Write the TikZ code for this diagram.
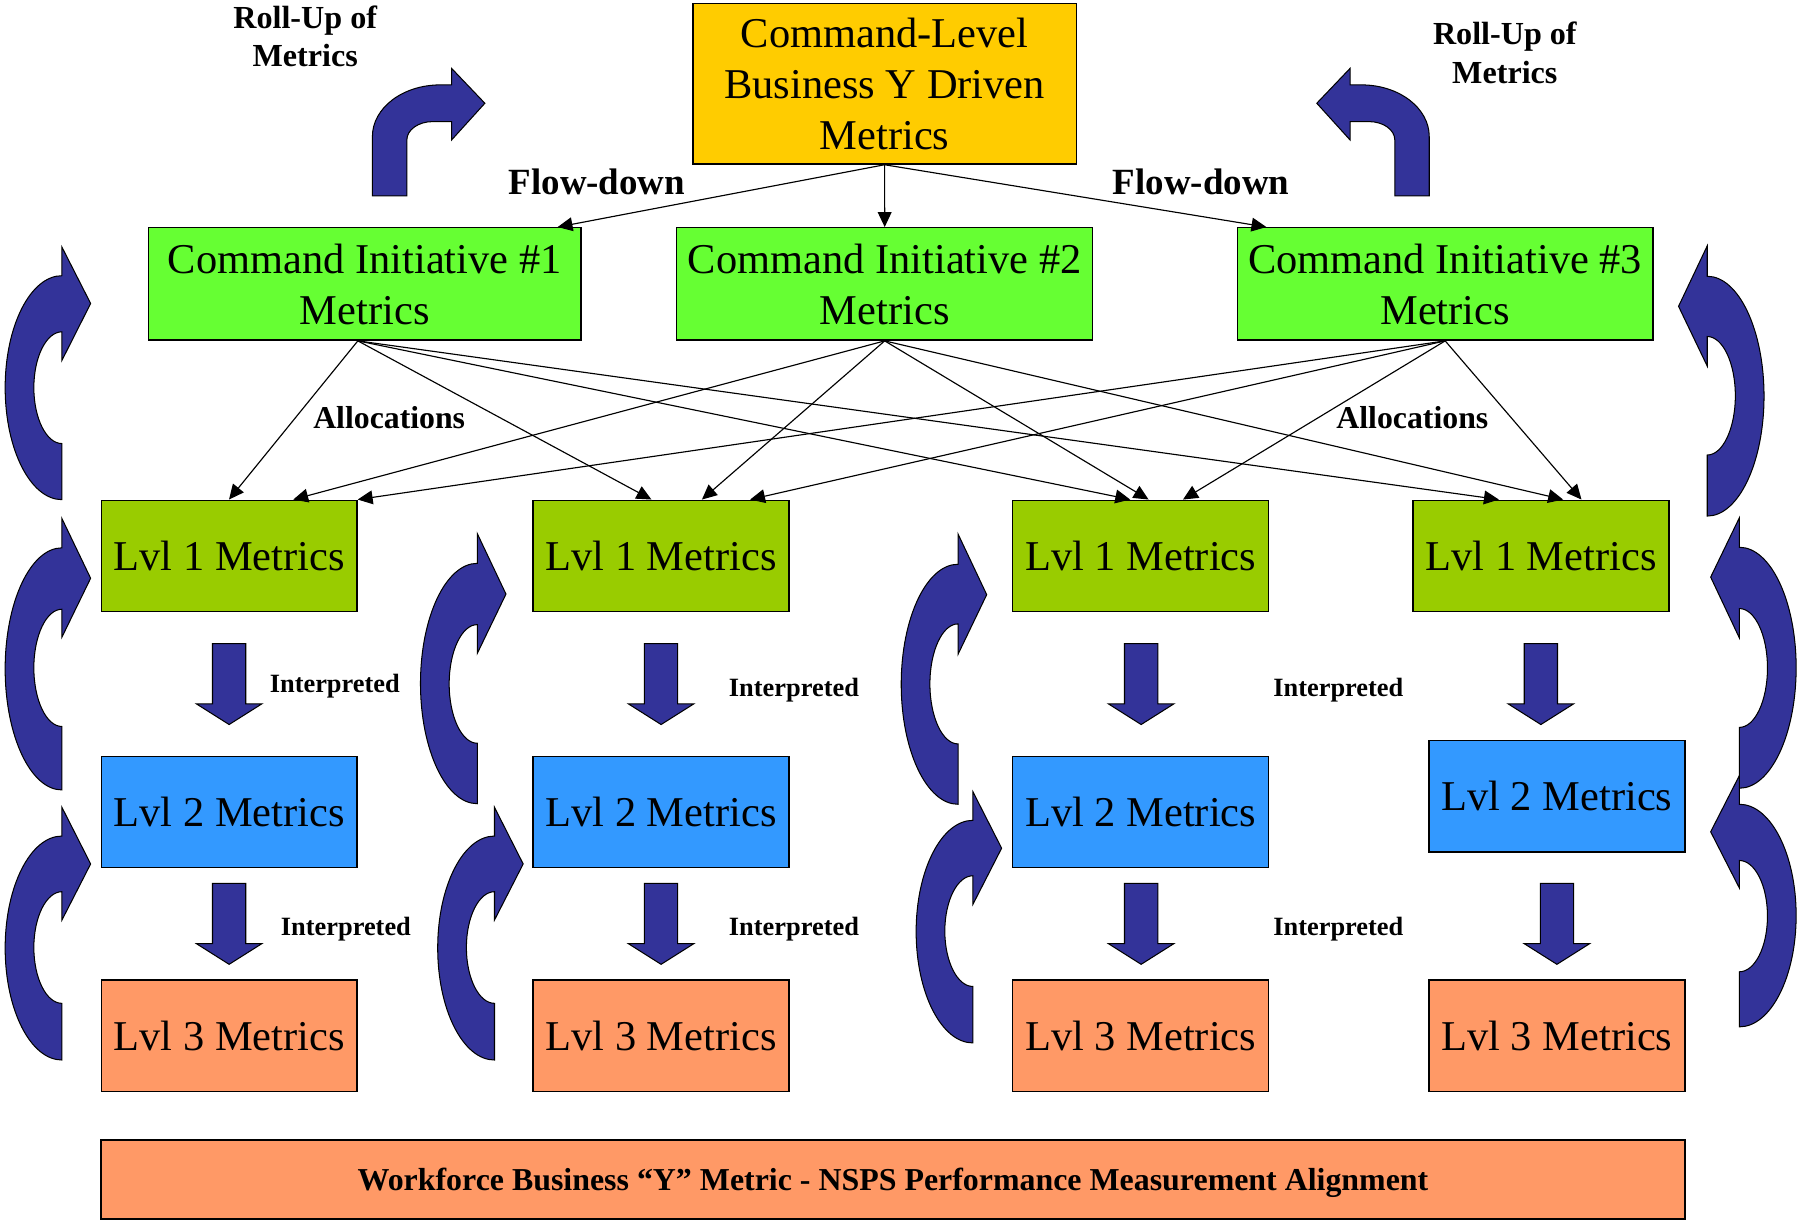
\documentclass[tikz,border=0pt]{standalone}
\usepackage{fontspec}
\setmainfont{Liberation Serif}
\usetikzlibrary{arrows.meta,calc}

\definecolor{cmdgold}{HTML}{FFCC00}
\definecolor{initgreen}{HTML}{66FF33}
\definecolor{lvlonefill}{HTML}{99CC00}
\definecolor{lvltwofill}{HTML}{3399FF}
\definecolor{lvlthreefill}{HTML}{FF9966}
\definecolor{navyarrow}{HTML}{333399}

% curved feedback arrow: base x, bulge direction (+1 left, -1 right),
% outer top/bottom, inner top/bottom, head top/bottom, tip y
\newcommand\feedbackarrow[9]{%
  \pgfmathsetmacro\fbOcy{(#3+#4)/2}%
  \pgfmathsetmacro\fbOry{(#4-#3)/2}%
  \pgfmathsetmacro\fbIcy{(#5+#6)/2}%
  \pgfmathsetmacro\fbIry{(#6-#5)/2}%
  \pgfmathsetmacro\fbOx{#1-(#2)*49.5}%
  \pgfmathsetmacro\fbIx{#1-(#2)*24.5}%
  \pgfmathsetmacro\fbOk{#1-(#2)*27.34}%
  \pgfmathsetmacro\fbIk{#1-(#2)*13.53}%
  \pgfmathsetmacro\fbTx{#1+(#2)*25}%
  \pgfmathsetmacro\fbOa{\fbOcy-0.5523*\fbOry}%
  \pgfmathsetmacro\fbOb{\fbOcy+0.5523*\fbOry}%
  \pgfmathsetmacro\fbIa{\fbIcy-0.5523*\fbIry}%
  \pgfmathsetmacro\fbIb{\fbIcy+0.5523*\fbIry}%
  \draw[blockarrow] (#1,#3) .. controls (\fbOk,#3) and (\fbOx,\fbOa) .. (\fbOx,\fbOcy)
    .. controls (\fbOx,\fbOb) and (\fbOk,#4) .. (#1,#4) -- (#1,#6)
    .. controls (\fbIk,#6) and (\fbIx,\fbIb) .. (\fbIx,\fbIcy)
    .. controls (\fbIx,\fbIa) and (\fbIk,#5) .. (#1,#5)
    -- (#1,#8) -- (\fbTx,#9) -- (#1,#7) -- cycle;
}

% straight block arrow pointing down: centre x, top y
\newcommand\downblock[2]{%
  \draw[blockarrow] ({#1-14.5},#2) -- ({#1+14.5},#2) -- ({#1+14.5},{#2+52.5})
    -- ({#1+28.5},{#2+52.5}) -- (#1,{#2+70.5}) -- ({#1-28.5},{#2+52.5})
    -- ({#1-14.5},{#2+52.5}) -- cycle;
}

% bent roll-up arrow: outer stem edge x, direction (+1 right, -1 left)
\newcommand\rollup[2]{%
  \draw[blockarrow] (#1,170.8) -- (#1,119) .. controls (#1,94.1) and ({#1+(#2)*26.4},74)
    .. ({#1+(#2)*59},74) -- ({#1+(#2)*69},74) -- ({#1+(#2)*69},59.6)
    -- ({#1+(#2)*98},90) -- ({#1+(#2)*69},122) -- ({#1+(#2)*69},106)
    -- ({#1+(#2)*52.4},106) .. controls ({#1+(#2)*40},106) and ({#1+(#2)*30},113.2)
    .. ({#1+(#2)*30},122) -- ({#1+(#2)*30},170.8) -- cycle;
}

\begin{document}
\begin{tikzpicture}[x=0.5pt,y=-0.5pt,
  box/.style={draw=black, line width=0.6pt, inner sep=0pt, align=center, text depth=-3.5pt,
    font=\fontsize{18.5pt}{22.3pt}\selectfont},
  cmdbox/.style={box, fill=cmdgold, minimum width=167pt, minimum height=70pt},
  initbox/.style={box, fill=initgreen, minimum height=49pt},
  lvlbox/.style={box, minimum width=111.5pt, minimum height=48.5pt},
  lonebox/.style={lvlbox, fill=lvlonefill},
  ltwobox/.style={lvlbox, fill=lvltwofill},
  lthreebox/.style={lvlbox, fill=lvlthreefill},
  barbox/.style={box, fill=lvlthreefill, minimum width=690.25pt, minimum height=34.5pt,
    text depth=-3pt, font=\bfseries\fontsize{13.9pt}{16pt}\selectfont},
  conn/.style={draw=black, line width=0.5pt, -{Triangle[length=6.5pt,width=6pt]}},
  blockarrow/.style={fill=navyarrow, draw=black, line width=0.45pt},
  rolltag/.style={inner sep=0pt, align=center, font=\bfseries\fontsize{14pt}{16.65pt}\selectfont},
  flowtag/.style={inner sep=0pt, anchor=base, font=\bfseries\fontsize{16.1pt}{19pt}\selectfont},
  alloctag/.style={inner sep=0pt, anchor=base, font=\bfseries\fontsize{13.85pt}{16pt}\selectfont},
  interptag/.style={inner sep=0pt, anchor=base, font=\bfseries\fontsize{11.5pt}{14pt}\selectfont},
]
\useasboundingbox (0,0) rectangle (1568,1064);

% command level and initiatives
\node[cmdbox] (top) at (771,73) {Command-Level\\Business Y Driven\\Metrics};
\node[initbox, minimum width=188.5pt] (ci1) at (317.9,247.5) {Command Initiative \#1\\Metrics};
\node[initbox, minimum width=181.3pt] (ci2) at (771.1,247.5) {Command Initiative \#2\\Metrics};
\node[initbox, minimum width=181.2pt] (ci3) at (1259.6,247.5) {Command Initiative \#3\\Metrics};

% level 1
\node[lonebox] (l11) at (199.7,484.5) {Lvl 1 Metrics};
\node[lonebox] (l12) at (576.2,484.5) {Lvl 1 Metrics};
\node[lonebox] (l13) at (994.2,484.5) {Lvl 1 Metrics};
\node[lonebox] (l14) at (1343.1,484.5) {Lvl 1 Metrics};

% level 2
\node[ltwobox] (l21) at (199.7,707.7) {Lvl 2 Metrics};
\node[ltwobox] (l22) at (576.2,707.7) {Lvl 2 Metrics};
\node[ltwobox] (l23) at (994.2,707.7) {Lvl 2 Metrics};
\node[ltwobox] (l24) at (1357,694) {Lvl 2 Metrics};

% level 3
\node[lthreebox] (l31) at (199.7,902.8) {Lvl 3 Metrics};
\node[lthreebox] (l32) at (576.2,902.8) {Lvl 3 Metrics};
\node[lthreebox] (l33) at (994.2,902.8) {Lvl 3 Metrics};
\node[lthreebox] (l34) at (1357,902.8) {Lvl 3 Metrics};

% alignment banner
\node[barbox] (bar) at (778.3,1028) {Workforce Business ``Y'' Metric - NSPS Performance Measurement Alignment};

% labels
\node[rolltag] (rollL) at (266,31.7) {Roll-Up of\\Metrics};
\node[rolltag] (rollR) at (1311.6,46) {Roll-Up of\\Metrics};
\node[flowtag] (flowL) at (520.3,169.5) {Flow-down};
\node[flowtag] (flowR) at (1047,169.5) {Flow-down};
\node[alloctag] (allocL) at (339.2,373.5) {Allocations};
\node[alloctag] (allocR) at (1231,373.5) {Allocations};
\node[interptag] (int11) at (291.8,604) {Interpreted};
\node[interptag] (int12) at (301.5,815.5) {Interpreted};
\node[interptag] (int21) at (692,607) {Interpreted};
\node[interptag] (int22) at (692,815.5) {Interpreted};
\node[interptag] (int31) at (1166.5,607) {Interpreted};
\node[interptag] (int32) at (1166.5,815.5) {Interpreted};

% flow-down connectors
\draw[conn] (top.south) -- ($(ci1.north east)+(-21,0)$);
\draw[conn] (top.south) -- (ci2.north);
\draw[conn] (top.south) -- ($(ci3.north west)+(26,0)$);

% allocation connectors
\coordinate (c1) at ($(ci1.south)+(-6,0)$);
\draw[conn] (c1) -- ($(l11.north west)+(112,0)$);
\draw[conn] (c1) -- ($(l12.north west)+(103.7,0)$);
\draw[conn] (c1) -- ($(l13.north west)+(103,0)$);
\draw[conn] (c1) -- ($(l14.north west)+(75.4,0)$);
\draw[conn] (ci2.south) -- ($(l11.north west)+(168,0)$);
\draw[conn] (ci2.south) -- ($(l12.north west)+(147.7,0)$);
\draw[conn] (ci2.south) -- ($(l13.north west)+(119,0)$);
\draw[conn] (ci2.south) -- ($(l14.north west)+(131.4,0)$);
\draw[conn] (ci3.south) -- (l11.north east);
\draw[conn] (ci3.south) -- ($(l12.north west)+(189.7,0)$);
\draw[conn] (ci3.south) -- ($(l13.north west)+(149,0)$);
\draw[conn] (ci3.south) -- ($(l14.north west)+(147.4,0)$);

% interpretation arrows
\downblock{199.7}{561}
\downblock{199.7}{770}
\downblock{576.2}{561}
\downblock{576.2}{770}
\downblock{994.6}{561}
\downblock{994.6}{770}
\downblock{1343}{561}
\downblock{1357}{770}

% roll-up arrows
\rollup{324.6}{1}
\rollup{1245.7}{-1}

% feedback arrows, left column
\feedbackarrow{54}{1}{240.3}{435.5}{289.2}{386.6}{215.4}{314.1}{264.5}
\feedbackarrow{54}{1}{477.5}{688.5}{531}{633.2}{452}{555.3}{504}
\feedbackarrow{54}{1}{728.7}{923.9}{777.2}{874.5}{703.7}{801.9}{753}
% second column
\feedbackarrow{416}{1}{491}{700.5}{544.4}{647.8}{465.1}{569.5}{517.8}
\feedbackarrow{431}{1}{728.7}{923.9}{777.2}{874.5}{703.7}{801.9}{753}
% third column
\feedbackarrow{835}{1}{491.8}{701}{543.8}{648.4}{465.4}{570.3}{518.3}
\feedbackarrow{848}{1}{715}{909}{763.3}{859.8}{690.1}{788.2}{739.3}
% right side
\feedbackarrow{1488}{-1}{240.8}{449.8}{293.3}{396.6}{214.3}{319.1}{267}
\feedbackarrow{1516}{-1}{477}{687}{530.4}{634}{451.3}{556}{503}
\feedbackarrow{1516}{-1}{701}{895}{750}{847}{676}{774}{725}

\end{tikzpicture}
\end{document}
